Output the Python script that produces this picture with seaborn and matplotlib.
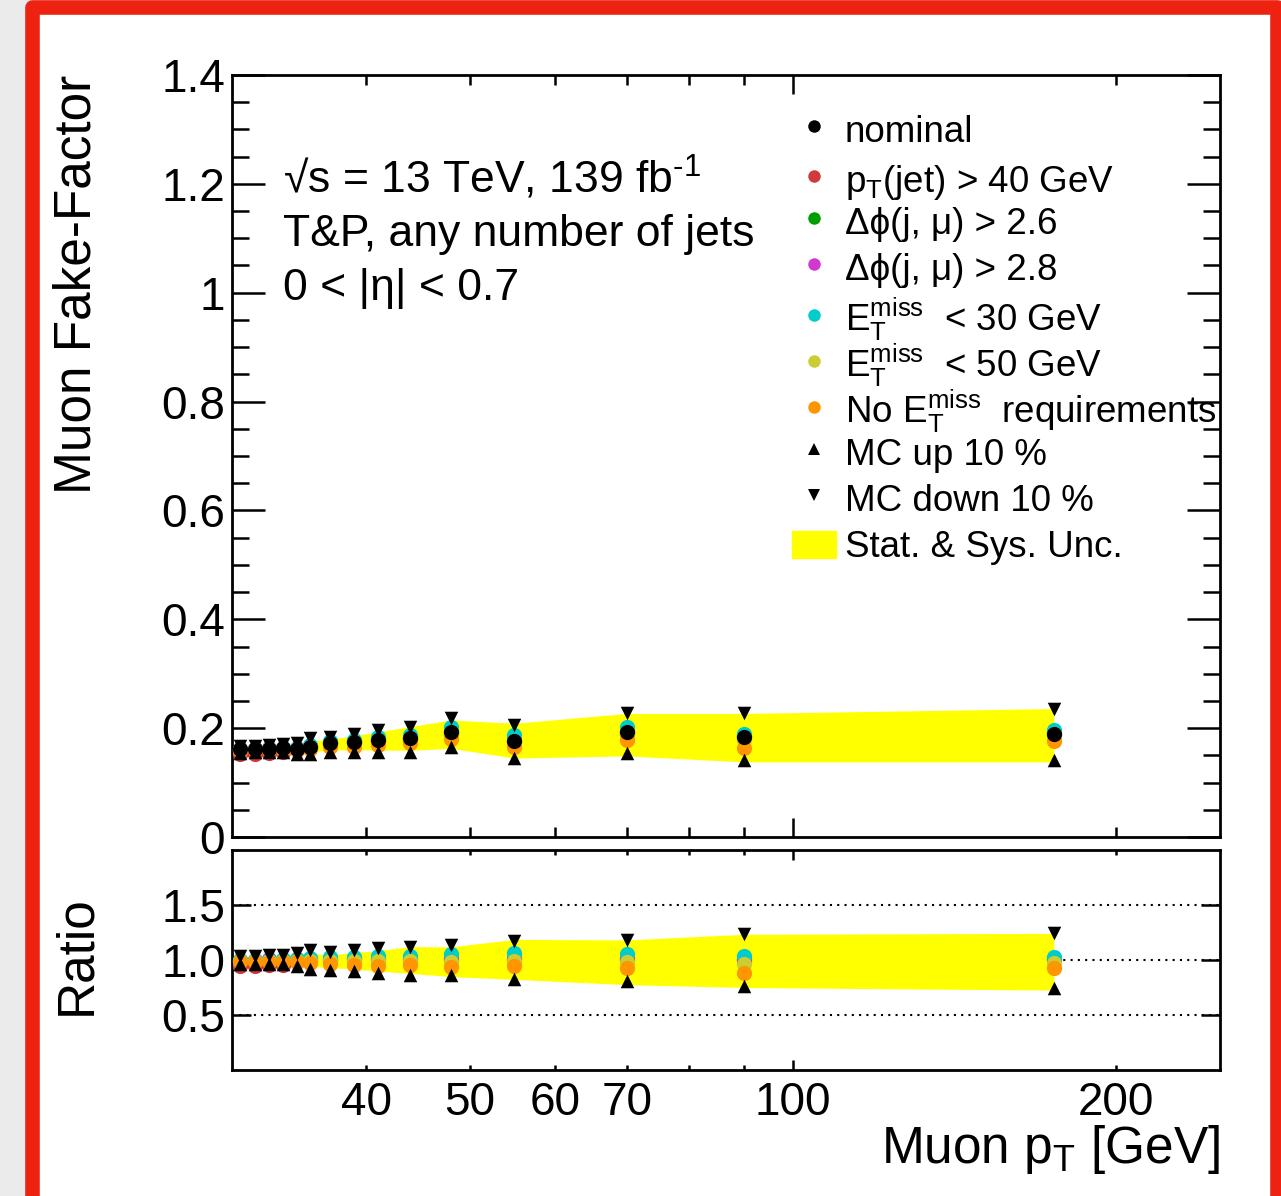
import numpy as np
import pandas as pd
import seaborn as sns
import matplotlib
matplotlib.use("Agg")
import matplotlib.pyplot as plt
import matplotlib.patches as mpatches
from matplotlib.lines import Line2D
from matplotlib.legend import Legend
from matplotlib.legend_handler import HandlerPatch
from matplotlib.ticker import FixedLocator, FuncFormatter, MultipleLocator, NullLocator

# muon pT bin centres [GeV]
pt = [30.5, 31.5, 32.5, 33.5, 34.5, 35.5, 37, 39, 41, 44, 48, 55, 70, 90, 175]

# fake factors
nominal = [0.161, 0.162, 0.162, 0.163, 0.162, 0.166, 0.172, 0.174, 0.178, 0.181, 0.192, 0.176, 0.192, 0.184, 0.190]
jet40 = [0.152, 0.153, 0.154, 0.156, 0.159, 0.164, 0.170, 0.172, 0.176, 0.179, 0.190, 0.175, 0.190, 0.182, 0.188]
dphi26 = [0.160, 0.161, 0.162, 0.163, 0.162, 0.166, 0.172, 0.175, 0.179, 0.182, 0.193, 0.177, 0.193, 0.185, 0.191]
dphi28 = [0.161, 0.162, 0.163, 0.163, 0.163, 0.167, 0.173, 0.175, 0.179, 0.182, 0.194, 0.178, 0.195, 0.186, 0.192]
met30 = [0.161, 0.162, 0.162, 0.164, 0.164, 0.169, 0.176, 0.179, 0.184, 0.188, 0.202, 0.187, 0.203, 0.190, 0.196]
met50 = [0.160, 0.161, 0.161, 0.162, 0.161, 0.165, 0.170, 0.172, 0.176, 0.179, 0.189, 0.174, 0.189, 0.178, 0.185]
no_met = [0.158, 0.159, 0.159, 0.160, 0.159, 0.161, 0.165, 0.166, 0.169, 0.172, 0.180, 0.166, 0.178, 0.163, 0.176]
mc_up = [0.155, 0.156, 0.156, 0.157, 0.153, 0.152, 0.157, 0.157, 0.157, 0.157, 0.166, 0.145, 0.155, 0.141, 0.141]
mc_down = [0.167, 0.168, 0.169, 0.170, 0.172, 0.181, 0.184, 0.190, 0.197, 0.203, 0.218, 0.206, 0.227, 0.227, 0.236]
band_hi = [0.166, 0.167, 0.168, 0.169, 0.170, 0.176, 0.180, 0.186, 0.193, 0.203, 0.215, 0.209, 0.227, 0.227, 0.236]
band_lo = [0.156, 0.157, 0.157, 0.158, 0.155, 0.156, 0.160, 0.160, 0.160, 0.159, 0.163, 0.145, 0.149, 0.138, 0.138]

labels = {
    "nominal": "nominal",
    "jet40": r"p$_{\mathrm{T}}$(jet) > 40 GeV",
    "dphi26": "Δϕ(j, μ) > 2.6",
    "dphi28": "Δϕ(j, μ) > 2.8",
    "met30": r"E$_{\mathrm{T}}^{\mathrm{miss}}$  < 30 GeV",
    "met50": r"E$_{\mathrm{T}}^{\mathrm{miss}}$  < 50 GeV",
    "no_met": r"No E$_{\mathrm{T}}^{\mathrm{miss}}$  requirements",
    "mc_up": "MC up 10 %",
    "mc_down": "MC down 10 %",
}
colors = {
    "nominal": "black", "jet40": "#d03a3a", "dphi26": "#009e00", "dphi28": "#d038d0",
    "met30": "#00cccc", "met50": "#cccc33", "no_met": "#ff9500",
    "mc_up": "black", "mc_down": "black",
}
markers = {k: "o" for k in colors}
markers["mc_up"] = "^"
markers["mc_down"] = "v"

series = {"nominal": nominal, "jet40": jet40, "dphi26": dphi26, "dphi28": dphi28,
          "met30": met30, "met50": met50, "no_met": no_met, "mc_up": mc_up, "mc_down": mc_down}

rows = []
for name, vals in series.items():
    for x, y, n in zip(pt, vals, nominal):
        rows.append({"series": name, "pt": x, "ff": y, "ratio": y / n})
df = pd.DataFrame(rows)
band = pd.DataFrame({"pt": pt, "hi": band_hi, "lo": band_lo, "nom": nominal})
band["rhi"] = band["hi"] / band["nom"]
band["rlo"] = band["lo"] / band["nom"]

sns.set_theme(style="ticks")
plt.rcParams["font.family"] = ["Liberation Sans", "DejaVu Sans"]
plt.rcParams["mathtext.fontset"] = "custom"
plt.rcParams["mathtext.rm"] = "Liberation Sans"
plt.rcParams["mathtext.it"] = "Liberation Sans:italic"
plt.rcParams["mathtext.sf"] = "Liberation Sans"
plt.rcParams["axes.linewidth"] = 2.0
for key in ["text.color", "axes.labelcolor", "xtick.color", "ytick.color", "axes.edgecolor"]:
    plt.rcParams[key] = "black"

W, H = 1281, 1196
fig = plt.figure(figsize=(W / 100, H / 100), dpi=100)
fig.patch.set_facecolor("#ebebeb")
fig.add_artist(mpatches.Rectangle((32 / W, 0), 1 - 32 / W, 1 - 6 / H, transform=fig.transFigure,
                                  facecolor="white", edgecolor="none", zorder=-10))
fig.add_artist(Line2D([32 / W, 32 / W, 1277 / W, 1277 / W], [0, 1 - 7 / H, 1 - 7 / H, 0],
                      transform=fig.transFigure, color="#ee2211", lw=10.5,
                      solid_joinstyle="round", solid_capstyle="round"))

ax = fig.add_axes([232 / W, 1 - 837 / H, 988 / W, 762 / H])
axr = fig.add_axes([232 / W, 1 - 1070 / H, 988 / W, 220 / H], sharex=ax)

# uncertainty bands
ax.fill_between(band["pt"], band["lo"], band["hi"], color="yellow", lw=0, zorder=1)
axr.fill_between(band["pt"], band["rlo"], band["rhi"], color="yellow", lw=0, zorder=1)
for yv in [0.5, 1.0, 1.5]:
    axr.axhline(yv, color="black", ls=(0, (1, 2.5)), lw=1.5, zorder=0.5)

main_order = ["jet40", "dphi26", "dphi28", "met30", "met50", "no_met", "nominal", "mc_up", "mc_down"]
ratio_order = ["jet40", "dphi26", "dphi28", "met30", "met50", "no_met", "mc_up", "mc_down"]
for z, name in enumerate(main_order):
    sub = df[df["series"] == name]
    sz = 95 if markers[name] != "o" else 120
    sns.scatterplot(data=sub, x="pt", y="ff", color=colors[name], marker=markers[name],
                    s=sz, linewidth=0, ax=ax, zorder=3 + z, legend=False)
for z, name in enumerate(ratio_order):
    sub = df[df["series"] == name]
    sz = 95 if markers[name] != "o" else 120
    sns.scatterplot(data=sub, x="pt", y="ratio", color=colors[name], marker=markers[name],
                    s=sz, linewidth=0, ax=axr, zorder=3 + z, legend=False)

# axes
ax.set_xscale("log")
ax.set_xlim(30, 250)
ax.set_ylim(0, 1.4)
axr.set_ylim(0, 2)

ax.xaxis.set_major_locator(FixedLocator([100]))
ax.xaxis.set_minor_locator(FixedLocator([40, 50, 60, 70, 80, 90, 200]))
shown = {40, 50, 60, 70, 100, 200}
fmt = FuncFormatter(lambda v, p: f"{v:g}" if round(v) in shown else "")
ax.xaxis.set_major_formatter(fmt)
ax.xaxis.set_minor_formatter(fmt)

ax.yaxis.set_major_locator(MultipleLocator(0.2))
ax.yaxis.set_minor_locator(MultipleLocator(0.05))
ax.yaxis.set_major_formatter(FuncFormatter(lambda v, p: f"{v:g}"))
axr.yaxis.set_major_locator(FixedLocator([0.5, 1.0, 1.5]))
axr.yaxis.set_minor_locator(NullLocator())
axr.yaxis.set_major_formatter(FuncFormatter(lambda v, p: f"{v:.1f}"))

for a in (ax, axr):
    a.set_facecolor("none")
    for s in a.spines.values():
        s.set_visible(True)
        s.set_linewidth(2.0)
        s.set_color("black")
    a.tick_params(which="both", direction="in", top=True, right=True, width=1.8, colors="black")
ax.tick_params(axis="x", which="major", length=14)
ax.tick_params(axis="x", which="minor", length=7)
ax.tick_params(axis="y", which="major", length=24, labelsize=33, pad=5)
ax.tick_params(axis="y", which="minor", length=12)
ax.tick_params(axis="x", which="both", labelbottom=False)
axr.tick_params(axis="x", which="major", length=7, labelsize=33, pad=8)
axr.tick_params(axis="x", which="minor", length=3.6, labelsize=33, pad=8)
axr.tick_params(axis="y", which="major", length=14, labelsize=33, pad=5)

ax.set_xlabel("")
axr.set_xlabel(r"Muon p$_{\mathrm{T}}$ [GeV]", fontsize=37, loc="right")
axr.xaxis.set_label_coords(1.0, -0.24)
ax.set_ylabel("Muon Fake-Factor", fontsize=37, loc="top")
ax.yaxis.set_label_coords(-0.132, 1.0)
axr.set_ylabel("Ratio", fontsize=37)
axr.yaxis.set_label_coords(-0.132, 0.52)

# info text
ax.text(0.0516, 0.845, r"√s = 13 TeV, 139 fb$^{\text{-1}}$", transform=ax.transAxes,
        fontsize=32, va="baseline")
ax.text(0.0516, 0.7756, "T&P, any number of jets", transform=ax.transAxes, fontsize=32, va="baseline")
ax.text(0.0516, 0.7047, "0 < |η| < 0.7", transform=ax.transAxes, fontsize=32, va="baseline")

# legend, one row per entry so the row pitch stays even
handles = []
for name in ["nominal", "jet40", "dphi26", "dphi28", "met30", "met50", "no_met", "mc_up", "mc_down"]:
    handles.append(Line2D([], [], ls="none", marker=markers[name], color=colors[name],
                          markersize=9, markeredgewidth=0, label=labels[name]))
handles.append(mpatches.Patch(color="yellow", label="Stat. & Sys. Unc."))


def small_box(legend, orig_handle, xdescent, ydescent, width, height, fontsize):
    return mpatches.Rectangle((-xdescent, -ydescent + 0.165 * height), width, 0.67 * height)


row_top = (837 - 130) / 762
row_step = 46.1 / 762
for i, h in enumerate(handles):
    # rows with a subscript have a deeper box, nudge them down a bit
    nudge = 5 / 762 if "_" in h.get_label() else 0
    leg = Legend(ax, [h], [h.get_label()], loc="center left",
                 bbox_to_anchor=(0.567, row_top - i * row_step - nudge), frameon=False,
                 fontsize=26.5, handlelength=1.19, handletextpad=0.24, handleheight=1.3,
                 borderpad=0, borderaxespad=0,
                 handler_map={mpatches.Patch: HandlerPatch(patch_func=small_box)})
    ax.add_artist(leg)

fig.savefig("out.png", dpi=100, facecolor=fig.get_facecolor())
